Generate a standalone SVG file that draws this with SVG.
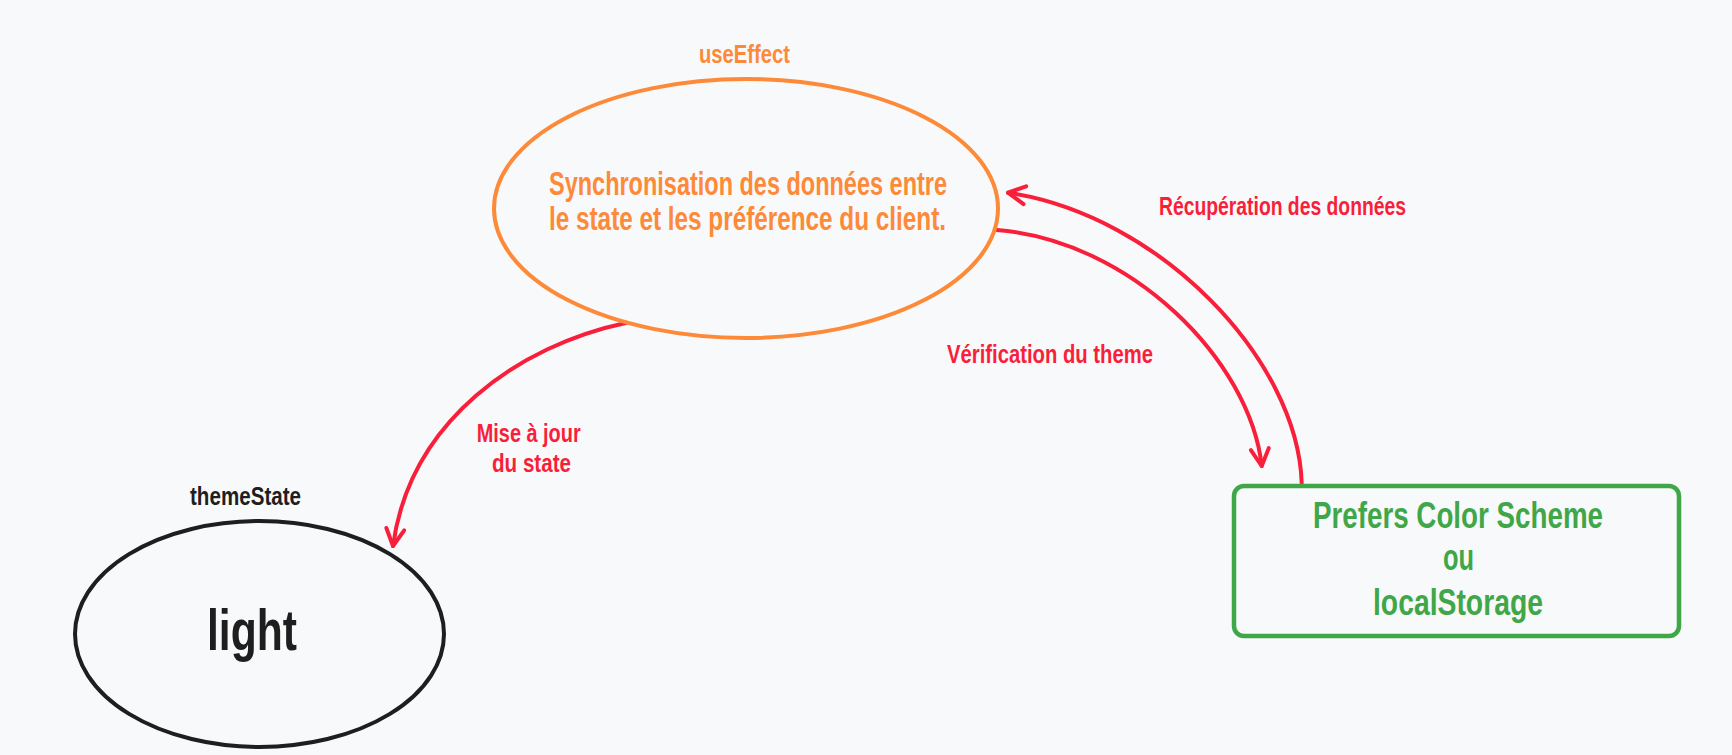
<svg xmlns="http://www.w3.org/2000/svg" width="1732" height="755" viewBox="0 0 1732 755">
<defs>
<style>
.t{font-family:"Liberation Sans",Arial,sans-serif;font-weight:bold;}
.org{fill:#fd8a38;}
.red{fill:#f91f3b;}
.grn{fill:#40a748;}
.blk{fill:#1e1e1e;}
.conn{fill:none;stroke:#f91f3b;stroke-width:4;stroke-linecap:round;}
</style>
<marker id="ah" markerUnits="userSpaceOnUse" markerWidth="40" markerHeight="40" refX="0" refY="0" viewBox="-20 -20 40 40" orient="auto" overflow="visible">
<path d="M-17,-9 L0,0 L-17,9" fill="none" stroke="#f91f3b" stroke-width="4" stroke-linecap="round" stroke-linejoin="round"/>
</marker>
</defs>
<rect x="0" y="0" width="1732" height="755" fill="#f8f9fa"/>
<g id="connectors">
<path class="conn" d="M626.7,322.7 C520,345 410,420 393,546" marker-end="url(#ah)"/>
<path class="conn" d="M996.7,230 C1130,240 1250,360 1261.7,466" marker-end="url(#ah)"/>
<path class="conn" d="M1301.7,483.3 C1298,360 1160,215 1008,192.7" marker-end="url(#ah)"/>
<text class="t red" font-size="25" x="476.7" y="442" textLength="104" lengthAdjust="spacingAndGlyphs">Mise à jour</text>
<text class="t red" font-size="25" x="492" y="472" textLength="79" lengthAdjust="spacingAndGlyphs">du state</text>
<text class="t red" font-size="25" x="947" y="363" textLength="206" lengthAdjust="spacingAndGlyphs">Vérification du theme</text>
<text class="t red" font-size="25" x="1159" y="215" textLength="247" lengthAdjust="spacingAndGlyphs">Récupération des données</text>
</g>
<g id="useEffect">
<ellipse cx="746" cy="208.5" rx="252" ry="129.5" fill="none" stroke="#fd8a38" stroke-width="4"/>
<text class="t org" font-size="25" x="699" y="63" textLength="91" lengthAdjust="spacingAndGlyphs">useEffect</text>
<text class="t org" font-size="34" x="549" y="195" textLength="398" lengthAdjust="spacingAndGlyphs">Synchronisation des données entre</text>
<text class="t org" font-size="34" x="549" y="230" textLength="397" lengthAdjust="spacingAndGlyphs">le state et les préférence du client.</text>
</g>
<g id="themeState">
<ellipse cx="259.5" cy="634" rx="184.5" ry="113" fill="none" stroke="#1e1e1e" stroke-width="4"/>
<text class="t blk" font-size="25" x="190" y="505" textLength="111" lengthAdjust="spacingAndGlyphs">themeState</text>
<text class="t blk" font-size="57" x="207" y="650" textLength="90" lengthAdjust="spacingAndGlyphs">light</text>
</g>
<g id="storage">
<rect x="1234" y="486" width="445" height="150" rx="10" fill="none" stroke="#40a748" stroke-width="4.5"/>
<text class="t grn" font-size="37" x="1313" y="528" textLength="290" lengthAdjust="spacingAndGlyphs">Prefers Color Scheme</text>
<text class="t grn" font-size="37" x="1443" y="570" textLength="31" lengthAdjust="spacingAndGlyphs">ou</text>
<text class="t grn" font-size="37" x="1373" y="615" textLength="170" lengthAdjust="spacingAndGlyphs">localStorage</text>
</g>
</svg>
